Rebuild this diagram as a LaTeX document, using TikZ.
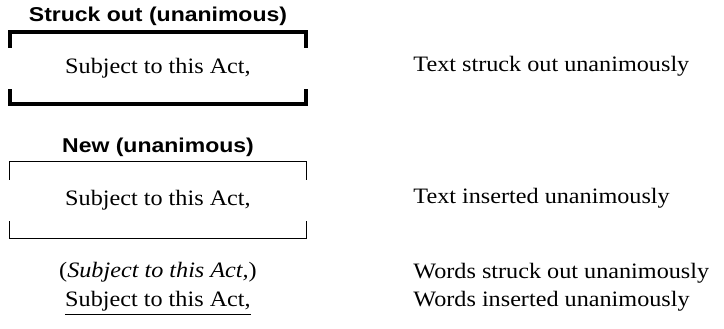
\documentclass[tikz,border=0pt]{standalone}
\usepackage{fontspec}
\setmainfont{Liberation Serif}[FakeStretch=1.1]
\newfontfamily\headfont{Liberation Sans}[FakeStretch=1.15]
\usetikzlibrary{positioning,calc}
\tikzset{
  every node/.style={font=\fontsize{11}{13}\selectfont, inner sep=0pt},
  head/.style={font=\headfont\bfseries\fontsize{10}{12}\selectfont, anchor=base},
  actbox/.style={minimum width=148pt, anchor=center},
  plain/.style={anchor=base},
  note/.style={anchor=base west},
  heavy/.style={line width=2pt, draw=black},
  light/.style={line width=0.7pt, draw=black},
}
\begin{document}
\begin{tikzpicture}
\useasboundingbox (0,0) rectangle (362pt,164pt);
\node[head] (struckhead) at (79pt,153.5pt) {Struck out (unanimous)};
\node[actbox, minimum height=36pt] (struck) at (79pt,130pt) {Subject to this Act,};
\draw[heavy] (struck.north west) ++(0,-8pt) |- (struck.north east) -- ++(0,-8pt);
\draw[heavy] (struck.south west) ++(0,7.5pt) |- (struck.south east) -- ++(0,7.5pt);
\node[head] (newhead) at (79pt,88pt) {New (unanimous)};
\node[actbox, minimum height=38pt] (new) at (79pt,64pt) {Subject to this Act,};
\draw[light] (new.north west) ++(0,-9pt) |- (new.north east) -- ++(0,-9pt);
\draw[light] (new.south west) ++(0,8.5pt) |- (new.south east) -- ++(0,8.5pt);
\node[plain] (wordsout) at (79pt,25.5pt) {(\textit{Subject to this Act,})};
\node[plain] (wordsin) at (79pt,11pt) {Subject to this Act,};
\draw[light] ([yshift=-1.6pt]wordsin.south west) -- ([yshift=-1.6pt]wordsin.south east);
\node[note] (struckNote) at (206.5pt,128.25pt) {Text struck out unanimously};
\node[note] (newNote) at (206.5pt,62.5pt) {Text inserted unanimously};
\node[note] (wordsoutNote) at (206.5pt,25pt) {Words struck out unanimously};
\node[note] (wordsinNote) at (206.5pt,11pt) {Words inserted unanimously};
\end{tikzpicture}
\end{document}
